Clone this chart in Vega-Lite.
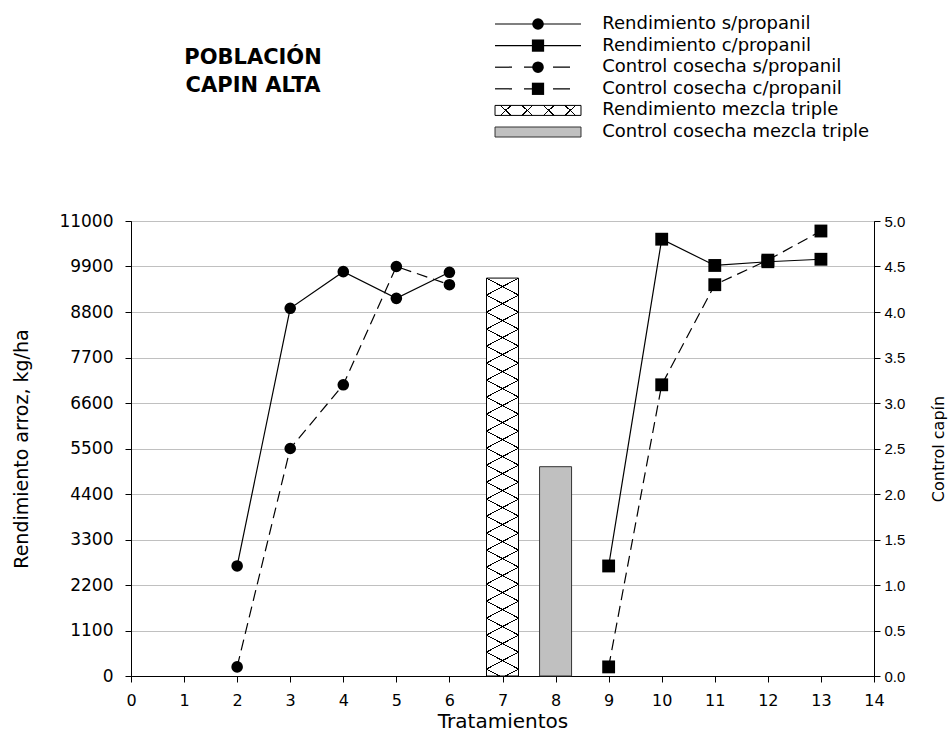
{
  "$schema": "https://vega.github.io/schema/vega-lite/v6.json",
  "background": "white",
  "padding": {"left": 12, "top": 5, "right": 0, "bottom": 0},
  "spacing": 6,
  "config": {
    "font": "DejaVu Sans",
    "view": {"stroke": "black", "strokeWidth": 1},
    "axis": {"domainColor": "black", "tickColor": "black", "labelColor": "black", "titleColor": "black", "titleFontWeight": "normal", "domainWidth": 1, "tickWidth": 1, "labelFlush": false, "labelOverlap": false}
  },
  "datasets": {
    "leyenda": [
      {"orden": 0, "etiqueta": "Rendimiento s/propanil"},
      {"orden": 1, "etiqueta": "Rendimiento c/propanil"},
      {"orden": 2, "etiqueta": "Control cosecha s/propanil"},
      {"orden": 3, "etiqueta": "Control cosecha c/propanil"},
      {"orden": 4, "etiqueta": "Rendimiento mezcla triple"},
      {"orden": 5, "etiqueta": "Control cosecha mezcla triple"}
    ],
    "titulo": [
      {"texto": "POBLACIÓN\nCAPIN ALTA"}
    ],
    "datos": [
      {"trat": 2, "valor": 2660, "serie": "Rendimiento s/propanil"},
      {"trat": 3, "valor": 8890, "serie": "Rendimiento s/propanil"},
      {"trat": 4, "valor": 9775, "serie": "Rendimiento s/propanil"},
      {"trat": 5, "valor": 9130, "serie": "Rendimiento s/propanil"},
      {"trat": 6, "valor": 9760, "serie": "Rendimiento s/propanil"},
      {"trat": 9, "valor": 2660, "serie": "Rendimiento c/propanil"},
      {"trat": 10, "valor": 10560, "serie": "Rendimiento c/propanil"},
      {"trat": 11, "valor": 9925, "serie": "Rendimiento c/propanil"},
      {"trat": 12, "valor": 10015, "serie": "Rendimiento c/propanil"},
      {"trat": 13, "valor": 10075, "serie": "Rendimiento c/propanil"},
      {"trat": 2, "valor": 0.1, "serie": "Control cosecha s/propanil"},
      {"trat": 3, "valor": 2.5, "serie": "Control cosecha s/propanil"},
      {"trat": 4, "valor": 3.2, "serie": "Control cosecha s/propanil"},
      {"trat": 5, "valor": 4.5, "serie": "Control cosecha s/propanil"},
      {"trat": 6, "valor": 4.3, "serie": "Control cosecha s/propanil"},
      {"trat": 9, "valor": 0.1, "serie": "Control cosecha c/propanil"},
      {"trat": 10, "valor": 3.2, "serie": "Control cosecha c/propanil"},
      {"trat": 11, "valor": 4.3, "serie": "Control cosecha c/propanil"},
      {"trat": 12, "valor": 4.57, "serie": "Control cosecha c/propanil"},
      {"trat": 13, "valor": 4.89, "serie": "Control cosecha c/propanil"},
      {"trat": 7, "valor": 9620, "serie": "Rendimiento mezcla triple"},
      {"trat": 8, "valor": 2.3, "serie": "Control cosecha mezcla triple"}
    ]
  },
  "vconcat": [
    {
      "width": 743,
      "height": 200,
      "view": {"stroke": null},
      "layer": [
        {
          "data": {"name": "leyenda"},
          "encoding": {
            "y": {"field": "orden", "type": "quantitative", "scale": {"domain": [-0.88, 8.379], "reverse": true, "nice": false, "zero": false}, "axis": null}
          },
          "layer": [
            {
              "transform": [{"filter": "datum.orden < 2"}],
              "mark": {"type": "rule", "color": "black", "strokeWidth": 1.2},
              "encoding": {
                "x": {"datum": 6.859, "type": "quantitative", "scale": {"domain": [0, 14], "nice": false, "zero": false}, "axis": null},
                "x2": {"datum": 8.479}
              }
            },
            {
              "transform": [{"filter": "datum.orden >= 2 && datum.orden < 4"}],
              "mark": {"type": "rule", "color": "black", "strokeWidth": 1.2, "strokeDash": [17, 12]},
              "encoding": {
                "x": {"datum": 6.859, "type": "quantitative", "scale": {"domain": [0, 14], "nice": false, "zero": false}, "axis": null},
                "x2": {"datum": 8.479}
              }
            },
            {
              "transform": [{"filter": "datum.orden === 0 || datum.orden === 2"}],
              "mark": {"type": "point", "shape": "circle", "filled": true, "color": "black", "opacity": 1, "size": 135},
              "encoding": {
                "x": {"datum": 7.669, "type": "quantitative", "scale": {"domain": [0, 14], "nice": false, "zero": false}, "axis": null}
              }
            },
            {
              "transform": [{"filter": "datum.orden === 1 || datum.orden === 3"}],
              "mark": {"type": "point", "shape": "square", "filled": true, "color": "black", "opacity": 1, "size": 150},
              "encoding": {
                "x": {"datum": 7.669, "type": "quantitative", "scale": {"domain": [0, 14], "nice": false, "zero": false}, "axis": null}
              }
            },
            {
              "transform": [{"filter": "datum.orden === 4"}],
              "mark": {
                "type": "rect", "yOffset": -5, "y2Offset": 5, "stroke": null,
                "fill": {"gradient": "linear", "x1": 0, "y1": 0, "x2": 1.1077, "y2": 0.13846, "stops": [
                  {"offset": 0, "color": "#fff"},
                  {"offset": 0.1591, "color": "#fff"}, {"offset": 0.1591, "color": "#000"}, {"offset": 0.1743, "color": "#000"}, {"offset": 0.1743, "color": "#fff"},
                  {"offset": 0.3813, "color": "#fff"}, {"offset": 0.3813, "color": "#000"}, {"offset": 0.3965, "color": "#000"}, {"offset": 0.3965, "color": "#fff"},
                  {"offset": 0.6035, "color": "#fff"}, {"offset": 0.6035, "color": "#000"}, {"offset": 0.6187, "color": "#000"}, {"offset": 0.6187, "color": "#fff"},
                  {"offset": 0.8257, "color": "#fff"}, {"offset": 0.8257, "color": "#000"}, {"offset": 0.8409, "color": "#000"}, {"offset": 0.8409, "color": "#fff"},
                  {"offset": 1, "color": "#fff"}
                ]}
              },
              "encoding": {
                "x": {"datum": 6.859, "type": "quantitative", "scale": {"domain": [0, 14], "nice": false, "zero": false}, "axis": null},
                "x2": {"datum": 8.479},
                "y2": {"field": "orden"}
              }
            },
            {
              "transform": [{"filter": "datum.orden === 4"}],
              "mark": {
                "type": "rect", "yOffset": -5, "y2Offset": 5, "stroke": "#000", "strokeWidth": 1,
                "fill": {"gradient": "linear", "x1": 1, "y1": 0, "x2": -0.1077, "y2": 0.13846, "stops": [
                  {"offset": 0, "color": "transparent"},
                  {"offset": 0.1591, "color": "transparent"}, {"offset": 0.1591, "color": "#000"}, {"offset": 0.1743, "color": "#000"}, {"offset": 0.1743, "color": "transparent"},
                  {"offset": 0.3813, "color": "transparent"}, {"offset": 0.3813, "color": "#000"}, {"offset": 0.3965, "color": "#000"}, {"offset": 0.3965, "color": "transparent"},
                  {"offset": 0.6035, "color": "transparent"}, {"offset": 0.6035, "color": "#000"}, {"offset": 0.6187, "color": "#000"}, {"offset": 0.6187, "color": "transparent"},
                  {"offset": 0.8257, "color": "transparent"}, {"offset": 0.8257, "color": "#000"}, {"offset": 0.8409, "color": "#000"}, {"offset": 0.8409, "color": "transparent"},
                  {"offset": 1, "color": "transparent"}
                ]}
              },
              "encoding": {
                "x": {"datum": 6.859, "type": "quantitative", "scale": {"domain": [0, 14], "nice": false, "zero": false}, "axis": null},
                "x2": {"datum": 8.479},
                "y2": {"field": "orden"}
              }
            },
            {
              "transform": [{"filter": "datum.orden === 5"}],
              "mark": {"type": "rect", "yOffset": -5, "y2Offset": 5, "fill": "#c0c0c0", "stroke": "#333", "strokeWidth": 1},
              "encoding": {
                "x": {"datum": 6.859, "type": "quantitative", "scale": {"domain": [0, 14], "nice": false, "zero": false}, "axis": null},
                "x2": {"datum": 8.479},
                "y2": {"field": "orden"}
              }
            },
            {
              "mark": {"type": "text", "align": "left", "baseline": "middle", "fontSize": 18, "color": "black"},
              "encoding": {
                "x": {"datum": 8.88, "type": "quantitative", "scale": {"domain": [0, 14], "nice": false, "zero": false}, "axis": null},
                "text": {"field": "etiqueta", "type": "nominal"}
              }
            }
          ]
        },
        {
          "data": {"name": "titulo"},
          "mark": {"type": "text", "align": "center", "baseline": "middle", "lineBreak": "\n", "fontSize": 21, "fontWeight": "bold", "lineHeight": 28, "color": "black"},
          "encoding": {
            "x": {"datum": 2.299, "type": "quantitative", "scale": {"domain": [0, 14], "nice": false, "zero": false}, "axis": null},
            "y": {"datum": 1.57, "type": "quantitative", "scale": {"domain": [-0.88, 8.379], "reverse": true, "nice": false, "zero": false}, "axis": null},
            "text": {"field": "texto", "type": "nominal"}
          }
        }
      ]
    },
    {
      "width": 743,
      "height": 455,
      "data": {"name": "datos"},
      "encoding": {
        "x": {
          "field": "trat", "type": "quantitative",
          "scale": {"domain": [0, 14], "nice": false, "zero": false, "padding": 0},
          "axis": {"values": [0,1,2,3,4,5,6,7,8,9,10,11,12,13,14], "title": "Tratamientos", "grid": false, "tickSize": 6, "labelPadding": 10, "labelFontSize": 16, "titleFontSize": 20, "titlePadding": 3}
        }
      },
      "layer": [
        {
          "encoding": {
            "y": {
              "field": "valor", "type": "quantitative",
              "scale": {"domain": [0, 11000], "nice": false, "zero": true},
              "axis": {"values": [0,1100,2200,3300,4400,5500,6600,7700,8800,9900,11000], "format": "d", "title": "Rendimiento arroz, kg/ha", "grid": true, "gridColor": "#c0c0c0", "gridWidth": 1.2, "tickSize": 6, "labelPadding": 12, "labelFontSize": 17, "titleFontSize": 19, "titlePadding": 27}
            }
          },
          "layer": [
            {
              "transform": [{"filter": "datum.serie === 'Rendimiento mezcla triple'"}],
              "mark": {"type": "bar", "orient": "vertical", "size": 32, "stroke": null,
                "fill": {"gradient": "linear", "x1": 0, "y1": 0, "x2": 0.04447, "y2": 1.04083, "stops": [
                  {"offset": 0, "color": "#fff"},
                  {"offset": 0.03957, "color": "#fff"}, {"offset": 0.03957, "color": "#000"}, {"offset": 0.04237, "color": "#000"}, {"offset": 0.04237, "color": "#fff"},
                  {"offset": 0.08055, "color": "#fff"}, {"offset": 0.08055, "color": "#000"}, {"offset": 0.08335, "color": "#000"}, {"offset": 0.08335, "color": "#fff"},
                  {"offset": 0.12152, "color": "#fff"}, {"offset": 0.12152, "color": "#000"}, {"offset": 0.12432, "color": "#000"}, {"offset": 0.12432, "color": "#fff"},
                  {"offset": 0.1625, "color": "#fff"}, {"offset": 0.1625, "color": "#000"}, {"offset": 0.1653, "color": "#000"}, {"offset": 0.1653, "color": "#fff"},
                  {"offset": 0.20347, "color": "#fff"}, {"offset": 0.20347, "color": "#000"}, {"offset": 0.20627, "color": "#000"}, {"offset": 0.20627, "color": "#fff"},
                  {"offset": 0.24444, "color": "#fff"}, {"offset": 0.24444, "color": "#000"}, {"offset": 0.24724, "color": "#000"}, {"offset": 0.24724, "color": "#fff"},
                  {"offset": 0.28542, "color": "#fff"}, {"offset": 0.28542, "color": "#000"}, {"offset": 0.28822, "color": "#000"}, {"offset": 0.28822, "color": "#fff"},
                  {"offset": 0.32639, "color": "#fff"}, {"offset": 0.32639, "color": "#000"}, {"offset": 0.32919, "color": "#000"}, {"offset": 0.32919, "color": "#fff"},
                  {"offset": 0.36737, "color": "#fff"}, {"offset": 0.36737, "color": "#000"}, {"offset": 0.37017, "color": "#000"}, {"offset": 0.37017, "color": "#fff"},
                  {"offset": 0.40834, "color": "#fff"}, {"offset": 0.40834, "color": "#000"}, {"offset": 0.41114, "color": "#000"}, {"offset": 0.41114, "color": "#fff"},
                  {"offset": 0.44931, "color": "#fff"}, {"offset": 0.44931, "color": "#000"}, {"offset": 0.45211, "color": "#000"}, {"offset": 0.45211, "color": "#fff"},
                  {"offset": 0.49029, "color": "#fff"}, {"offset": 0.49029, "color": "#000"}, {"offset": 0.49309, "color": "#000"}, {"offset": 0.49309, "color": "#fff"},
                  {"offset": 0.53126, "color": "#fff"}, {"offset": 0.53126, "color": "#000"}, {"offset": 0.53406, "color": "#000"}, {"offset": 0.53406, "color": "#fff"},
                  {"offset": 0.57224, "color": "#fff"}, {"offset": 0.57224, "color": "#000"}, {"offset": 0.57504, "color": "#000"}, {"offset": 0.57504, "color": "#fff"},
                  {"offset": 0.61321, "color": "#fff"}, {"offset": 0.61321, "color": "#000"}, {"offset": 0.61601, "color": "#000"}, {"offset": 0.61601, "color": "#fff"},
                  {"offset": 0.65418, "color": "#fff"}, {"offset": 0.65418, "color": "#000"}, {"offset": 0.65698, "color": "#000"}, {"offset": 0.65698, "color": "#fff"},
                  {"offset": 0.69516, "color": "#fff"}, {"offset": 0.69516, "color": "#000"}, {"offset": 0.69796, "color": "#000"}, {"offset": 0.69796, "color": "#fff"},
                  {"offset": 0.73613, "color": "#fff"}, {"offset": 0.73613, "color": "#000"}, {"offset": 0.73893, "color": "#000"}, {"offset": 0.73893, "color": "#fff"},
                  {"offset": 0.77711, "color": "#fff"}, {"offset": 0.77711, "color": "#000"}, {"offset": 0.77991, "color": "#000"}, {"offset": 0.77991, "color": "#fff"},
                  {"offset": 0.81808, "color": "#fff"}, {"offset": 0.81808, "color": "#000"}, {"offset": 0.82088, "color": "#000"}, {"offset": 0.82088, "color": "#fff"},
                  {"offset": 0.85905, "color": "#fff"}, {"offset": 0.85905, "color": "#000"}, {"offset": 0.86185, "color": "#000"}, {"offset": 0.86185, "color": "#fff"},
                  {"offset": 0.90003, "color": "#fff"}, {"offset": 0.90003, "color": "#000"}, {"offset": 0.90283, "color": "#000"}, {"offset": 0.90283, "color": "#fff"},
                  {"offset": 0.941, "color": "#fff"}, {"offset": 0.941, "color": "#000"}, {"offset": 0.9438, "color": "#000"}, {"offset": 0.9438, "color": "#fff"},
                  {"offset": 0.98198, "color": "#fff"}, {"offset": 0.98198, "color": "#000"}, {"offset": 0.98478, "color": "#000"}, {"offset": 0.98478, "color": "#fff"},
                  {"offset": 1, "color": "#fff"}
                ]}
              }
            },
            {
              "transform": [{"filter": "datum.serie === 'Rendimiento mezcla triple'"}],
              "mark": {"type": "bar", "orient": "vertical", "size": 32, "stroke": "#000", "strokeWidth": 1,
                "fill": {"gradient": "linear", "x1": 1, "y1": 0, "x2": 0.95553, "y2": 1.04083, "stops": [
                  {"offset": 0, "color": "transparent"},
                  {"offset": 0.03957, "color": "transparent"}, {"offset": 0.03957, "color": "#000"}, {"offset": 0.04237, "color": "#000"}, {"offset": 0.04237, "color": "transparent"},
                  {"offset": 0.08055, "color": "transparent"}, {"offset": 0.08055, "color": "#000"}, {"offset": 0.08335, "color": "#000"}, {"offset": 0.08335, "color": "transparent"},
                  {"offset": 0.12152, "color": "transparent"}, {"offset": 0.12152, "color": "#000"}, {"offset": 0.12432, "color": "#000"}, {"offset": 0.12432, "color": "transparent"},
                  {"offset": 0.1625, "color": "transparent"}, {"offset": 0.1625, "color": "#000"}, {"offset": 0.1653, "color": "#000"}, {"offset": 0.1653, "color": "transparent"},
                  {"offset": 0.20347, "color": "transparent"}, {"offset": 0.20347, "color": "#000"}, {"offset": 0.20627, "color": "#000"}, {"offset": 0.20627, "color": "transparent"},
                  {"offset": 0.24444, "color": "transparent"}, {"offset": 0.24444, "color": "#000"}, {"offset": 0.24724, "color": "#000"}, {"offset": 0.24724, "color": "transparent"},
                  {"offset": 0.28542, "color": "transparent"}, {"offset": 0.28542, "color": "#000"}, {"offset": 0.28822, "color": "#000"}, {"offset": 0.28822, "color": "transparent"},
                  {"offset": 0.32639, "color": "transparent"}, {"offset": 0.32639, "color": "#000"}, {"offset": 0.32919, "color": "#000"}, {"offset": 0.32919, "color": "transparent"},
                  {"offset": 0.36737, "color": "transparent"}, {"offset": 0.36737, "color": "#000"}, {"offset": 0.37017, "color": "#000"}, {"offset": 0.37017, "color": "transparent"},
                  {"offset": 0.40834, "color": "transparent"}, {"offset": 0.40834, "color": "#000"}, {"offset": 0.41114, "color": "#000"}, {"offset": 0.41114, "color": "transparent"},
                  {"offset": 0.44931, "color": "transparent"}, {"offset": 0.44931, "color": "#000"}, {"offset": 0.45211, "color": "#000"}, {"offset": 0.45211, "color": "transparent"},
                  {"offset": 0.49029, "color": "transparent"}, {"offset": 0.49029, "color": "#000"}, {"offset": 0.49309, "color": "#000"}, {"offset": 0.49309, "color": "transparent"},
                  {"offset": 0.53126, "color": "transparent"}, {"offset": 0.53126, "color": "#000"}, {"offset": 0.53406, "color": "#000"}, {"offset": 0.53406, "color": "transparent"},
                  {"offset": 0.57224, "color": "transparent"}, {"offset": 0.57224, "color": "#000"}, {"offset": 0.57504, "color": "#000"}, {"offset": 0.57504, "color": "transparent"},
                  {"offset": 0.61321, "color": "transparent"}, {"offset": 0.61321, "color": "#000"}, {"offset": 0.61601, "color": "#000"}, {"offset": 0.61601, "color": "transparent"},
                  {"offset": 0.65418, "color": "transparent"}, {"offset": 0.65418, "color": "#000"}, {"offset": 0.65698, "color": "#000"}, {"offset": 0.65698, "color": "transparent"},
                  {"offset": 0.69516, "color": "transparent"}, {"offset": 0.69516, "color": "#000"}, {"offset": 0.69796, "color": "#000"}, {"offset": 0.69796, "color": "transparent"},
                  {"offset": 0.73613, "color": "transparent"}, {"offset": 0.73613, "color": "#000"}, {"offset": 0.73893, "color": "#000"}, {"offset": 0.73893, "color": "transparent"},
                  {"offset": 0.77711, "color": "transparent"}, {"offset": 0.77711, "color": "#000"}, {"offset": 0.77991, "color": "#000"}, {"offset": 0.77991, "color": "transparent"},
                  {"offset": 0.81808, "color": "transparent"}, {"offset": 0.81808, "color": "#000"}, {"offset": 0.82088, "color": "#000"}, {"offset": 0.82088, "color": "transparent"},
                  {"offset": 0.85905, "color": "transparent"}, {"offset": 0.85905, "color": "#000"}, {"offset": 0.86185, "color": "#000"}, {"offset": 0.86185, "color": "transparent"},
                  {"offset": 0.90003, "color": "transparent"}, {"offset": 0.90003, "color": "#000"}, {"offset": 0.90283, "color": "#000"}, {"offset": 0.90283, "color": "transparent"},
                  {"offset": 0.941, "color": "transparent"}, {"offset": 0.941, "color": "#000"}, {"offset": 0.9438, "color": "#000"}, {"offset": 0.9438, "color": "transparent"},
                  {"offset": 0.98198, "color": "transparent"}, {"offset": 0.98198, "color": "#000"}, {"offset": 0.98478, "color": "#000"}, {"offset": 0.98478, "color": "transparent"},
                  {"offset": 1, "color": "transparent"}
                ]}
              }
            },
            {
              "transform": [{"filter": "datum.serie === 'Rendimiento s/propanil' || datum.serie === 'Rendimiento c/propanil'"}],
              "mark": {"type": "line", "color": "black", "strokeWidth": 1.2},
              "encoding": {"detail": {"field": "serie"}}
            },
            {
              "transform": [{"filter": "datum.serie === 'Rendimiento s/propanil'"}],
              "mark": {"type": "point", "shape": "circle", "filled": true, "color": "black", "opacity": 1, "size": 135}
            },
            {
              "transform": [{"filter": "datum.serie === 'Rendimiento c/propanil'"}],
              "mark": {"type": "point", "shape": "square", "filled": true, "color": "black", "opacity": 1, "size": 165}
            }
          ]
        },
        {
          "encoding": {
            "y": {
              "field": "valor", "type": "quantitative",
              "scale": {"domain": [0, 5], "nice": false, "zero": true},
              "axis": {"orient": "right", "values": [0,0.5,1,1.5,2,2.5,3,3.5,4,4.5,5], "format": ".1f", "title": "Control capín", "grid": false, "tickSize": 6, "labelPadding": 4, "labelFont": "Liberation Sans", "labelFontSize": 15, "titleFontSize": 16, "titleAngle": 270, "titleBaseline": "top", "titlePadding": 26}
            }
          },
          "layer": [
            {
              "transform": [{"filter": "datum.serie === 'Control cosecha mezcla triple'"}],
              "mark": {"type": "bar", "orient": "vertical", "size": 32, "fill": "#c0c0c0", "stroke": "#333", "strokeWidth": 1}
            },
            {
              "transform": [{"filter": "datum.serie === 'Control cosecha s/propanil' || datum.serie === 'Control cosecha c/propanil'"}],
              "mark": {"type": "line", "color": "black", "strokeWidth": 1.2, "strokeDash": [11, 6]},
              "encoding": {"detail": {"field": "serie"}}
            },
            {
              "transform": [{"filter": "datum.serie === 'Control cosecha s/propanil'"}],
              "mark": {"type": "point", "shape": "circle", "filled": true, "color": "black", "opacity": 1, "size": 135}
            },
            {
              "transform": [{"filter": "datum.serie === 'Control cosecha c/propanil'"}],
              "mark": {"type": "point", "shape": "square", "filled": true, "color": "black", "opacity": 1, "size": 165}
            }
          ]
        }
      ],
      "resolve": {"scale": {"y": "independent"}}
    }
  ]
}
